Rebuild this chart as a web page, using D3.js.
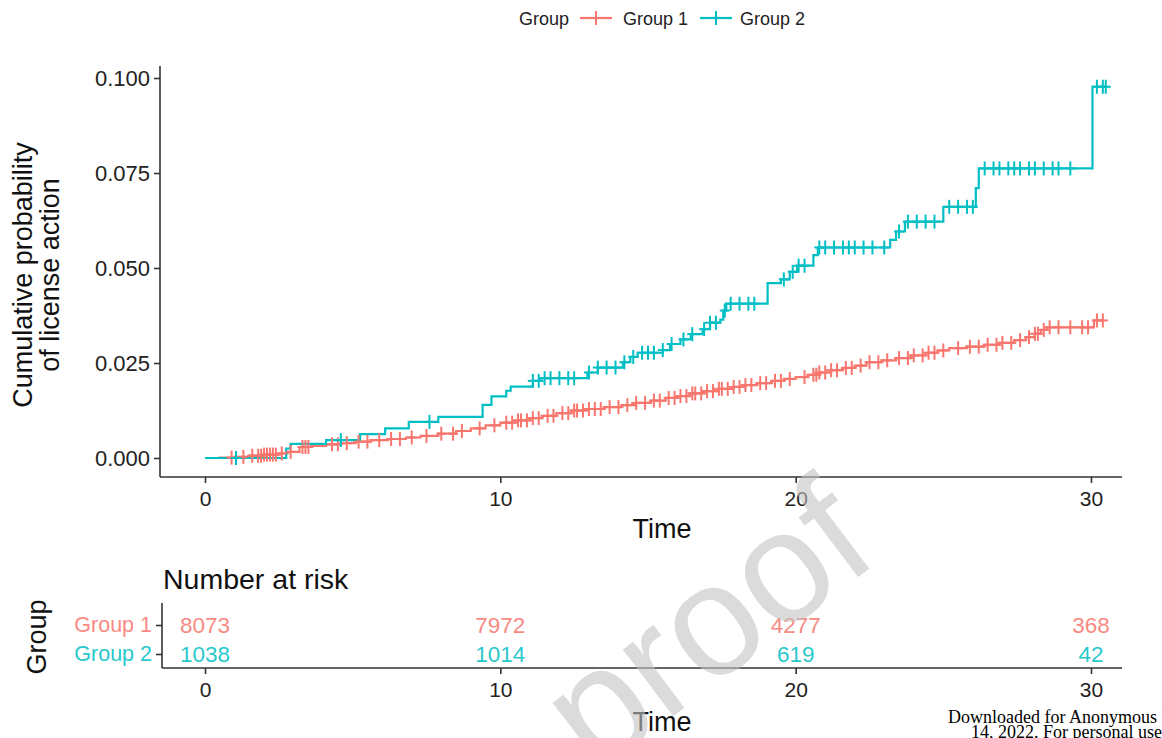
<!DOCTYPE html>
<html>
<head>
<meta charset="utf-8">
<script src="https://cdn.jsdelivr.net/npm/d3@7"></script>
<style>
  html, body { margin: 0; padding: 0; background: #ffffff; }
  svg { display: block; }
</style>
</head>
<body>
<svg id="chart" width="1162" height="738"></svg>
<script>
// ---------------- data ----------------
const groups = ["Group 1", "Group 2"];
const groupColors = ["#F8766D", "#00BFC4"];

// event steps: time and cumulative probability
const g1Times = [0, 0.5, 1.0, 1.5, 2.0, 2.5, 2.8, 3.2, 3.6, 4.1, 4.6, 5.1, 5.6, 6.2, 6.8, 7.3, 7.9, 8.5, 9.0, 9.5,
  10.0, 10.5, 11.0, 11.4, 11.9, 12.4, 12.9, 13.5, 14.1, 14.6, 15.1, 15.6, 16.0, 16.4, 16.9, 17.4, 17.9, 18.3, 18.7,
  19.2, 19.6, 20.0, 20.4, 20.8, 21.2, 21.6, 22.0, 22.4, 22.9, 23.4, 23.9, 24.4, 24.8, 25.2, 25.8, 26.4, 26.9, 27.4,
  27.8, 28.1, 28.3, 28.5, 30.1, 30.4];
const g1Cum = [0, 0.0001, 0.0003, 0.0006, 0.0009, 0.0012, 0.0016, 0.0029, 0.0032, 0.0036, 0.0039, 0.0043, 0.0047,
  0.0050, 0.0054, 0.0058, 0.0064, 0.0071, 0.0078, 0.0086, 0.0093, 0.0099, 0.0105, 0.0111, 0.0118, 0.0125, 0.0129,
  0.0134, 0.0139, 0.0145, 0.0151, 0.0158, 0.0163, 0.0170, 0.0176, 0.0182, 0.0187, 0.0192, 0.0197, 0.0203, 0.0208,
  0.0213, 0.0219, 0.0225, 0.0231, 0.0237, 0.0243, 0.0252, 0.0257, 0.0263, 0.0270, 0.0277, 0.0283, 0.0289, 0.0293,
  0.0298, 0.0303, 0.0310, 0.0318, 0.0327, 0.0337, 0.0344, 0.0362, 0.0362];

const g2Times = [0, 2.75, 2.9, 4.1, 5.25, 6.1, 6.9, 7.9, 9.4, 9.7, 10.2, 10.35, 11.1, 11.35, 12.95, 13.3, 14.15,
  14.4, 14.65, 15.5, 15.75, 16.1, 16.45, 16.85, 17.1, 17.45, 17.55, 17.65, 19.05, 19.5, 19.8, 20.05, 20.6, 20.75,
  23.2, 23.4, 23.7, 25.0, 26.1, 26.2, 30.05, 30.5];
const g2Cum = [0, 0.0025, 0.0037, 0.0047, 0.0063, 0.0078, 0.0095, 0.0108, 0.0140, 0.0162, 0.0177, 0.0188, 0.0203,
  0.0210, 0.0225, 0.0238, 0.0252, 0.0266, 0.0277, 0.0284, 0.0300, 0.0312, 0.0326, 0.0339, 0.0356, 0.0364, 0.0388,
  0.0406, 0.0460, 0.0470, 0.0490, 0.0506, 0.0534, 0.0554, 0.0574, 0.0596, 0.0622, 0.0661, 0.0710, 0.0762, 0.0977,
  0.0977];

// censoring times
const g1Censor = [0.9, 1.3, 1.6, 1.8, 1.9, 2.0, 2.1, 2.2, 2.3, 2.4, 2.6, 2.9, 3.3, 3.4, 3.5, 4.3, 4.5, 4.8, 5.2,
  5.5, 5.9, 6.3, 6.6, 7.0, 7.5, 8.0, 8.4, 8.7, 9.3, 9.8, 10.2, 10.4, 10.6, 10.7, 10.9, 11.1, 11.3, 11.6, 11.8, 12.1,
  12.3, 12.5, 12.6, 12.8, 13.0, 13.2, 13.4, 13.7, 14.0, 14.3, 14.6, 14.9, 15.2, 15.4, 15.7, 15.9, 16.1, 16.3, 16.5,
  16.6, 16.8, 17.0, 17.2, 17.4, 17.5, 17.7, 17.9, 18.1, 18.3, 18.5, 18.8, 19.0, 19.3, 19.5, 19.8, 20.3, 20.6, 20.7,
  20.8, 21.0, 21.2, 21.4, 21.7, 21.9, 22.2, 22.5, 22.8, 23.1, 23.5, 23.8, 24.0, 24.3, 24.5, 24.7, 25.0, 25.5, 25.9,
  26.2, 26.5, 26.8, 27.0, 27.3, 27.6, 27.9, 28.1, 28.2, 28.4, 28.6, 28.9, 29.3, 29.7, 29.9, 30.2, 30.4];
const g2Censor = [1.05, 4.6, 7.6, 11.1, 11.3, 11.5, 11.7, 12.0, 12.3, 12.5, 13.0, 13.3, 13.6, 13.9, 14.2, 14.5, 14.8,
  15.0, 15.2, 15.5, 15.8, 16.2, 16.5, 16.9, 17.1, 17.3, 17.6, 17.8, 18.1, 18.4, 18.6, 19.6, 19.9, 20.1, 20.3, 20.8,
  21.0, 21.3, 21.6, 21.8, 22.0, 22.3, 22.6, 23.0, 23.5, 23.8, 24.1, 24.4, 24.7, 25.2, 25.5, 25.8, 26.0, 26.4, 26.7,
  26.9, 27.2, 27.4, 27.6, 27.9, 28.1, 28.4, 28.7, 28.9, 29.3, 30.2, 30.4, 30.5];

// number at risk table
const riskTimes = [0, 10, 20, 30];
const riskG1 = [8073, 7972, 4277, 368];
const riskG2 = [1038, 1014, 619, 42];

const xTicks = [0, 10, 20, 30];
const yTicks = [0, 0.025, 0.05, 0.075, 0.1];

// ---------------- drawing ----------------
const svg = d3.select("#chart").style("font-family", "'Liberation Sans', Arial, sans-serif");
const serif = "'Liberation Serif', 'Times New Roman', serif";
const axisColor = "#333333";
const tickText = "#222222";

const x = d3.scaleLinear().domain([0, 30]).range([205, 1091]);
const y = d3.scaleLinear().domain([0, 0.1]).range([458, 78]);

const series = [
  { name: groups[0], color: groupColors[0], pts: g1Times.map((t, i) => [t, g1Cum[i]]), cens: g1Censor },
  { name: groups[1], color: groupColors[1], pts: g2Times.map((t, i) => [t, g2Cum[i]]), cens: g2Censor }
];

function stepValue(pts, t) {
  let v = 0;
  for (const p of pts) { if (p[0] <= t) v = p[1]; else break; }
  return v;
}

// axes of main plot
const plotLeft = 160, plotBottom = 477, plotRight = 1122, plotTop = 66;
const gx = svg.append("g").attr("transform", `translate(0,${plotBottom})`)
  .call(d3.axisBottom(x).tickValues(xTicks).tickFormat(d3.format("d")).tickSize(6).tickSizeOuter(0));
gx.attr("font-family", null);
gx.select(".domain").remove();
gx.append("line").attr("x1", plotLeft).attr("x2", plotRight).attr("y1", 0).attr("y2", 0)
  .attr("stroke", axisColor).attr("stroke-width", 1.6);
gx.selectAll(".tick line").attr("stroke", axisColor).attr("stroke-width", 1.6);
gx.selectAll(".tick text").attr("font-size", 21).attr("fill", tickText).attr("dy", "0.95em");

const gy = svg.append("g").attr("transform", `translate(${plotLeft},0)`)
  .call(d3.axisLeft(y).tickValues(yTicks).tickFormat(d3.format(".3f")).tickSize(6).tickSizeOuter(0));
gy.attr("font-family", null);
gy.select(".domain").remove();
gy.append("line").attr("x1", 0).attr("x2", 0).attr("y1", plotTop).attr("y2", plotBottom)
  .attr("stroke", axisColor).attr("stroke-width", 1.6);
gy.selectAll(".tick line").attr("stroke", axisColor).attr("stroke-width", 1.6);
gy.selectAll(".tick text").attr("font-size", 22).attr("fill", tickText).attr("x", -10);

// axis titles
svg.append("text").attr("x", 662).attr("y", 538).attr("text-anchor", "middle")
  .attr("font-size", 27).attr("fill", "#111").text("Time");
const yt = svg.append("text").attr("transform", "translate(35,275) rotate(-90)")
  .attr("text-anchor", "middle").attr("font-size", 27).attr("fill", "#111");
yt.append("tspan").attr("x", 0).attr("dy", "-0.12em").text("Cumulative probability");
yt.append("tspan").attr("x", 0).attr("dy", "1.0em").text("of license action");

// curves
const line = d3.line().x(d => x(d[0])).y(d => y(d[1])).curve(d3.curveStepAfter);
series.forEach(s => {
  svg.append("path").datum(s.pts).attr("d", line).attr("fill", "none")
    .attr("stroke", s.color).attr("stroke-width", 2.2);
});
series.forEach(s => {
  const g = svg.append("g");
  s.cens.forEach(t => {
    const cx = x(t), cy = y(stepValue(s.pts, t));
    g.append("line").attr("x1", cx - 5).attr("x2", cx + 5).attr("y1", cy).attr("y2", cy)
      .attr("stroke", s.color).attr("stroke-width", 2);
    g.append("line").attr("x1", cx).attr("x2", cx).attr("y1", cy - 7).attr("y2", cy + 7)
      .attr("stroke", s.color).attr("stroke-width", 2);
  });
});

// legend
const lg = svg.append("g");
lg.append("text").attr("x", 519).attr("y", 25).attr("font-size", 18).attr("fill", "#222").text("Group");
const legendPos = [{ kx: 580, tx: 623 }, { kx: 700, tx: 740 }];
series.forEach((s, i) => {
  const p = legendPos[i];
  lg.append("line").attr("x1", p.kx).attr("x2", p.kx + 32).attr("y1", 18).attr("y2", 18)
    .attr("stroke", s.color).attr("stroke-width", 2.2);
  lg.append("line").attr("x1", p.kx + 16).attr("x2", p.kx + 16).attr("y1", 11).attr("y2", 25)
    .attr("stroke", s.color).attr("stroke-width", 2);
  lg.append("text").attr("x", p.tx).attr("y", 25).attr("font-size", 18).attr("fill", "#222").text(s.name);
});

// ---------------- risk table ----------------
svg.append("text").attr("x", 163).attr("y", 589).attr("font-size", 28.5).attr("fill", "#111").text("Number at risk");
const ry = d3.scalePoint().domain(groups).range([625, 654]);
const tLeft = 162, tBottom = 668, tTop = 603;

const rgx = svg.append("g").attr("transform", `translate(0,${tBottom})`)
  .call(d3.axisBottom(x).tickValues(xTicks).tickFormat(d3.format("d")).tickSize(6).tickSizeOuter(0));
rgx.attr("font-family", null);
rgx.select(".domain").remove();
rgx.append("line").attr("x1", tLeft).attr("x2", plotRight).attr("y1", 0).attr("y2", 0)
  .attr("stroke", axisColor).attr("stroke-width", 1.6);
rgx.selectAll(".tick line").attr("stroke", axisColor).attr("stroke-width", 1.6);
rgx.selectAll(".tick text").attr("font-size", 21).attr("fill", tickText).attr("dy", "0.95em");

const rgy = svg.append("g").attr("transform", `translate(${tLeft},0)`)
  .call(d3.axisLeft(ry).tickSize(6).tickSizeOuter(0));
rgy.attr("font-family", null);
rgy.select(".domain").remove();
rgy.append("line").attr("x1", 0).attr("x2", 0).attr("y1", tTop).attr("y2", tBottom)
  .attr("stroke", axisColor).attr("stroke-width", 1.6);
rgy.selectAll(".tick line").attr("stroke", axisColor).attr("stroke-width", 1.6);
rgy.selectAll(".tick text").attr("font-size", 21.5).attr("x", -10)
  .attr("fill", (d, i) => groupColors[i]).attr("opacity", 0.85);

const riskRows = [riskG1, riskG2];
riskRows.forEach((row, gi) => {
  svg.append("g").selectAll("text").data(row).join("text")
    .attr("x", (d, i) => x(riskTimes[i]))
    .attr("y", ry(groups[gi]))
    .attr("dy", "0.35em")
    .attr("text-anchor", "middle")
    .attr("font-size", 22.5)
    .attr("fill", groupColors[gi])
    .attr("opacity", 0.85)
    .text(d => d);
});

svg.append("text").attr("x", 662).attr("y", 731).attr("text-anchor", "middle")
  .attr("font-size", 27).attr("fill", "#111").text("Time");
svg.append("text").attr("transform", "translate(46,637) rotate(-90)").attr("text-anchor", "middle")
  .attr("font-size", 27).attr("fill", "#111").text("Group");

// watermark
svg.append("text").attr("transform", "translate(882,559) rotate(-37)")
  .attr("text-anchor", "end").attr("font-size", 158).attr("fill", "#c4c4c4").attr("opacity", 0.6)
  .text("Journal Pre-proof");

// download note
svg.append("text").attr("x", 948).attr("y", 723).attr("font-family", serif)
  .attr("font-size", 18).attr("fill", "#000").text("Downloaded for Anonymous User");
svg.append("text").attr("x", 971).attr("y", 738).attr("font-family", serif)
  .attr("font-size", 18).attr("fill", "#000").text("14, 2022. For personal use");
</script>
</body>
</html>
